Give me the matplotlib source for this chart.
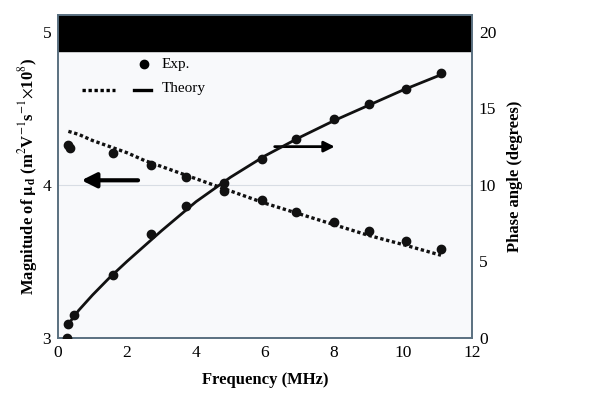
import matplotlib.pyplot as plt

plt.rcParams['font.family'] = ['Liberation Serif', 'DejaVu Serif']
plt.rcParams['mathtext.fontset'] = 'stix'

# experimental points
freq_exp = [0.3, 0.35, 1.6, 2.7, 3.7, 4.8, 5.9, 6.9, 8.0, 9.0, 10.1, 11.1]
mag_exp = [4.26, 4.24, 4.21, 4.13, 4.05, 3.96, 3.90, 3.82, 3.76, 3.70, 3.63, 3.58]
freq_ph = [0.25, 0.3, 0.45, 1.6, 2.7, 3.7, 4.8, 5.9, 6.9, 8.0, 9.0, 10.1, 11.1]
phase_exp = [0.0, 0.9, 1.5, 4.1, 6.8, 8.6, 10.1, 11.7, 13.0, 14.3, 15.3, 16.3, 17.3]

# theory curves
freq_th = [0.3, 0.6, 1.0, 1.5, 2.0, 2.5, 3.0, 3.5, 4.0, 5.0, 6.0, 7.0, 8.0, 9.0, 10.0, 11.1]
mag_th = [4.35, 4.33, 4.29, 4.25, 4.21, 4.16, 4.12, 4.08, 4.04, 3.96, 3.88, 3.81, 3.74, 3.67, 3.61, 3.54]
phase_th = [0.9, 1.8, 2.8, 3.95, 5.0, 6.0, 7.0, 7.95, 8.9, 10.5, 11.9, 13.1, 14.2, 15.2, 16.2, 17.2]

fig = plt.figure(figsize=(6.07, 3.97), dpi=100)
fig.patch.set_facecolor('white')
ax = fig.add_axes([0.0956, 0.149, 0.682, 0.813])
ax.set_facecolor('#f8f9fb')
ax2 = ax.twinx()

ax.set_xlim(0, 12)
ax.set_ylim(3, 5.11)
ax2.set_ylim(0, 21.1)

# black band at the top
ax.axhspan(4.875, 5.2, color='black', zorder=1)
ax.axhline(4.0, color='#d8dde4', lw=0.8, zorder=0)

ax.plot(freq_th, mag_th, linestyle=(0, (1, 0.8)), color='#111111', lw=2.4, zorder=3)
ax.plot(freq_exp, mag_exp, 'o', color='#111111', ms=6, zorder=4)
ax2.plot(freq_th, phase_th, '-', color='#111111', lw=2, zorder=3)
ax2.plot(freq_ph, phase_exp, 'o', color='#111111', ms=6, zorder=4)

# arrows pointing to the axes
ax.annotate('', xy=(0.6, 4.03), xytext=(2.4, 4.03),
            arrowprops=dict(arrowstyle='-|>', color='black', lw=3, mutation_scale=22))
ax.annotate('', xy=(8.1, 4.25), xytext=(6.2, 4.25),
            arrowprops=dict(arrowstyle='-|>', color='black', lw=2, mutation_scale=16))

# legend drawn by hand
ax.plot([2.5], [4.79], 'o', color='black', ms=6)
ax.text(3.0, 4.79, 'Exp.', fontsize=11, va='center')
ax.plot([0.7, 1.65], [4.62, 4.62], linestyle=(0, (1, 0.8)), color='black', lw=2.4)
ax.plot([2.2, 2.7], [4.62, 4.62], '-', color='black', lw=2.4)
ax.text(3.0, 4.63, 'Theory', fontsize=11, va='center')

ax.set_xticks([0, 2, 4, 6, 8, 10, 12])
ax.set_yticks([3, 4, 5])
ax2.set_yticks([0, 5, 10, 15, 20])
for a in (ax, ax2):
    a.tick_params(length=0, labelsize=12.5, pad=5)
    for s in a.spines.values():
        s.set_color('#5a7080')
        s.set_linewidth(1.2)

ax.set_xlabel('Frequency (MHz)', fontsize=12, fontweight='bold', labelpad=8)
ax.set_ylabel(r'Magnitude of $\mathbf{\mu_d}$ (m$^2$V$^{-1}$s$^{-1}$$\times$10$^8$)',
              fontsize=12, fontweight='bold', labelpad=2)
ax2.set_ylabel('Phase angle (degrees)', fontsize=12, fontweight='bold', labelpad=8)

fig.savefig('out.png', dpi=100)
